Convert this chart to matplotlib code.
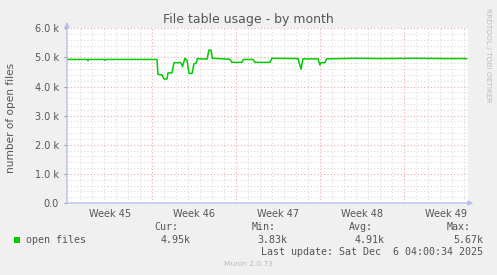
import matplotlib.pyplot as plt
from matplotlib.patches import Rectangle

# days since start of the graph window, open files (thousands)
days = [0.0, 1.70, 1.75, 1.80, 3.12, 3.17, 3.22, 7.50, 7.58, 7.92, 8.08, 8.33, 8.42,
        8.75, 8.92, 9.50, 9.62, 9.83, 10.00, 10.17, 10.42, 10.58, 10.75, 10.87,
        11.67, 11.83, 12.00, 12.12, 13.58, 13.75, 14.58, 14.70, 15.50, 15.67,
        16.92, 17.08, 19.25, 19.50, 19.67, 20.92, 21.08, 21.17, 21.50, 21.62,
        24.0, 26.5, 29.0, 31.5, 33.3]
files_k = [4.93, 4.93, 4.89, 4.93, 4.93, 4.90, 4.93, 4.93, 4.42, 4.40, 4.26, 4.26, 4.47,
           4.47, 4.82, 4.82, 4.68, 4.97, 4.90, 4.45, 4.45, 4.78, 4.80, 4.96,
           4.94, 5.25, 5.25, 4.97, 4.94, 4.83, 4.83, 4.93, 4.93, 4.83,
           4.83, 4.97, 4.96, 4.60, 4.95, 4.95, 4.74, 4.82, 4.82, 4.95,
           4.97, 4.96, 4.97, 4.96, 4.96]
week_labels = ['Week 45', 'Week 46', 'Week 47', 'Week 48', 'Week 49']
week_starts = [0.06, 7.06, 14.06, 21.06, 28.06, 35.06]
y_ticks = [0, 1000, 2000, 3000, 4000, 5000, 6000]
y_tick_labels = ['0.0', '1.0 k', '2.0 k', '3.0 k', '4.0 k', '5.0 k', '6.0 k']
legend_stats = [('Cur:', '4.95k'), ('Min:', '3.83k'), ('Avg:', '4.91k'), ('Max:', '5.67k')]

W, H = 497, 275
text_col = '#555555'
axis_col = '#B8BEF0'

fig = plt.figure(figsize=(W / 100, H / 100), dpi=100, facecolor='#F0F0F0')
x0, x1, ytop, ybot = 67, 468, 28.3, 203
ax = fig.add_axes([x0 / W, (H - ybot) / H, (x1 - x0) / W, (ybot - ytop) / H])
ax.set_facecolor('white')
xmax = 33.42
ax.set_xlim(0, xmax)
ax.set_ylim(0, 6000)

# minor grid (daily / every 200)
for d in range(1, 34):
    if d % 7 != 0:
        ax.axvline(d + 0.06, color='#DADADA', lw=0.8, ls=(0, (1, 2)), zorder=1)
for v in range(200, 6000, 200):
    if v % 1000 != 0:
        ax.axhline(v, color='#DADADA', lw=0.8, ls=(0, (1, 2)), zorder=1)
# major grid (weekly / every 1000)
for d in week_starts[1:-1]:
    ax.axvline(d, color='#F0A8A8', lw=0.8, ls=(0, (1, 2)), zorder=2)
for v in y_ticks[1:]:
    ax.axhline(v, color='#F0A8A8', lw=0.8, ls=(0, (1, 2)), zorder=2)

ax.plot(days, [v * 1000 for v in files_k], color='#00CC00', lw=1.1, zorder=5)

for s in ax.spines.values():
    s.set_visible(False)
ax.annotate('', xy=(xmax + 0.45, 0), xytext=(0, 0), xycoords='data',
            arrowprops=dict(arrowstyle='-|>', color=axis_col, lw=1.0,
                            mutation_scale=7, shrinkA=0, shrinkB=0),
            annotation_clip=False, zorder=6)
ax.annotate('', xy=(0, 6220), xytext=(0, 0), xycoords='data',
            arrowprops=dict(arrowstyle='-|>', color=axis_col, lw=1.0,
                            mutation_scale=7, shrinkA=0, shrinkB=0),
            annotation_clip=False, zorder=6)

ax.set_yticks(y_ticks)
ax.set_yticklabels(y_tick_labels)
mids = [(week_starts[i] + week_starts[i + 1]) / 2 for i in range(5)]
ax.set_xticks(mids)
ax.set_xticklabels(week_labels)
ax.tick_params(axis='y', length=2, width=0.8, color='#999999', pad=4,
               labelsize=7, labelcolor=text_col)
ax.tick_params(axis='x', length=0, pad=4.5, labelsize=7, labelcolor=text_col)

def px(x, y):
    return x / W, 1 - y / H

fig.text(*px(248.5, 19), 'File table usage - by month', ha='center', va='center',
         fontsize=9, color=text_col)
fig.text(*px(11, 118), 'number of open files', ha='center', va='center',
         rotation=90, fontsize=7.6, color=text_col)
fig.text(*px(488, 55), 'RRDTOOL / TOBI OETIKER', ha='center', va='center',
         rotation=270, fontsize=5.3, color='#BBBBBB')

mono = 'DejaVu Sans Mono'
fig.patches.append(Rectangle(px(14, 243), 6 / W, 6 / H, transform=fig.transFigure,
                             facecolor='#00CC00', edgecolor='none'))
fig.text(*px(26, 240), 'open files', ha='left', va='center', family=mono,
         fontsize=7.2, color=text_col)
head_x = [154.3, 251.7, 349, 447]
for (head, val), hx in zip(legend_stats, head_x):
    fig.text(*px(hx, 227.5), head, ha='left', va='center', family=mono,
             fontsize=7.2, color=text_col)
    fig.text(*px(hx + 6, 240), val, ha='left', va='center', family=mono,
             fontsize=7.2, color=text_col)
fig.text(*px(483, 252), 'Last update: Sat Dec  6 04:00:34 2025', ha='right',
         va='center', family=mono, fontsize=7.2, color=text_col)
fig.text(*px(248, 264), 'Munin 2.0.73', ha='center', va='center', fontsize=5.4,
         color='#BBBBBB')

fig.savefig('out.png', dpi=100, facecolor=fig.get_facecolor())
